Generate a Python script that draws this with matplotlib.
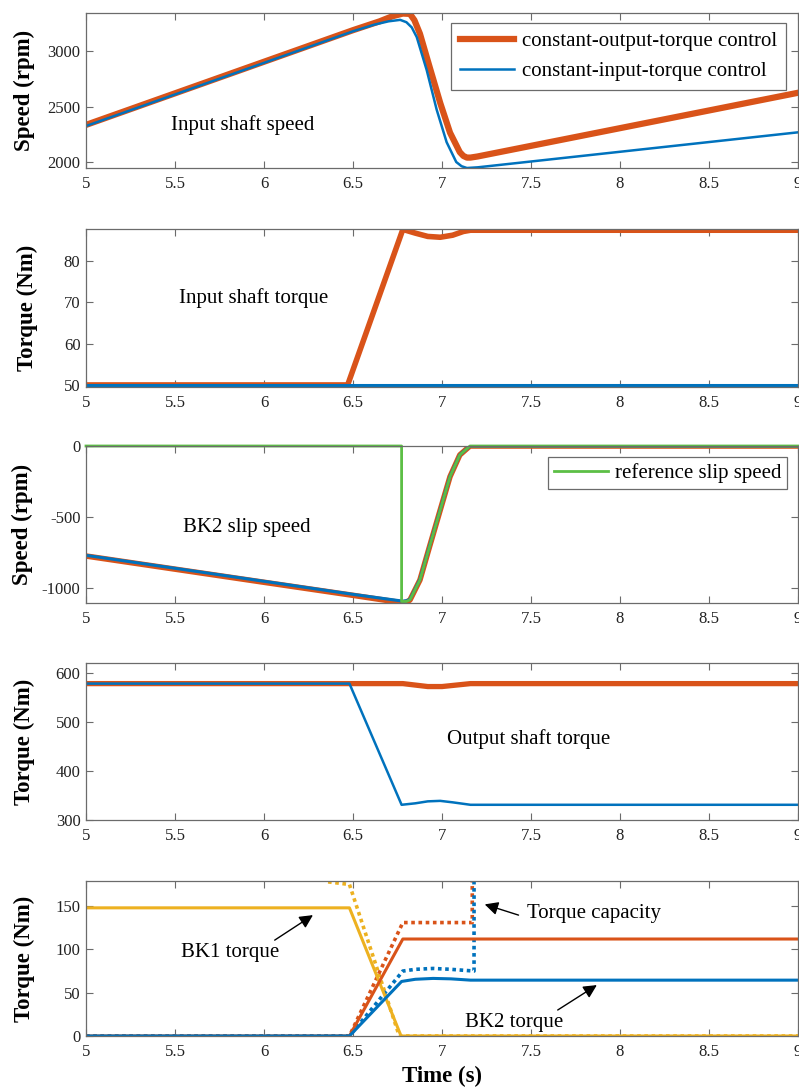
import matplotlib
matplotlib.use("Agg")
import matplotlib.pyplot as plt

plt.rcParams['font.family'] = ['Liberation Serif', 'DejaVu Serif']
plt.rcParams['axes.unicode_minus'] = False

ORANGE = '#D95319'
BLUE = '#0072BD'
YELLOW = '#EDB120'
GREEN = '#5CBF45'
GRAY = '#6b6b6b'

# ---- panel 1: input shaft speed (rpm)
t_spd_o = [5.0, 6.0, 6.5, 6.65, 6.72, 6.78, 6.82, 6.845, 6.876, 6.93, 6.99, 7.045, 7.10, 7.12, 7.14, 7.16, 7.2, 9.0]
spd_o = [2335, 2905, 3190, 3270, 3315, 3340, 3337, 3280, 3158, 2860, 2533, 2265, 2089, 2055, 2040, 2040, 2050, 2625]
t_spd_b = [5.0, 6.0, 6.5, 6.62, 6.7, 6.765, 6.80, 6.83, 6.858, 6.914, 6.97, 7.026, 7.08, 7.11, 7.14, 7.2, 9.0]
spd_b = [2325, 2895, 3180, 3240, 3270, 3283, 3262, 3215, 3128, 2830, 2473, 2179, 2000, 1962, 1946, 1952, 2268]

# ---- panel 2: input shaft torque (Nm)
t_tin_o = [5.0, 6.47, 6.78, 6.85, 6.92, 6.99, 7.06, 7.12, 7.16, 9.0]
tin_o = [50, 50, 87.7, 86.8, 86.0, 85.8, 86.3, 87.2, 87.5, 87.5]
t_tin_b = [5.0, 9.0]
tin_b = [50, 50]

# ---- panel 3: BK2 slip speed (rpm)
t_slip = [5.0, 6.0, 6.5, 6.78, 6.80, 6.82, 6.876, 6.93, 6.99, 7.045, 7.10, 7.157, 9.0]
slip_o = [-775, -960, -1052, -1105, -1100, -1085, -944, -709, -451, -216, -63, 0, 0]
slip_b = [-770, -953, -1045, -1093, -1090, -1080, -940, -705, -448, -214, -62, 0, 0]
t_ref = [5.0, 6.773, 6.773, 6.80, 6.82, 6.876, 6.93, 6.99, 7.045, 7.10, 7.157, 9.0]
slip_ref = [0, 0, -1095, -1095, -1083, -944, -709, -451, -216, -63, 0, 0]

# ---- panel 4: output shaft torque (Nm)
t_tout_o = [5.0, 6.78, 6.85, 6.92, 7.0, 7.08, 7.16, 9.0]
tout_o = [578, 578, 575, 572, 572, 575, 578, 578]
t_tout_b = [5.0, 6.48, 6.773, 6.85, 6.92, 6.99, 7.06, 7.16, 9.0]
tout_b = [578, 578, 331, 334, 338, 339, 336, 331, 331]

# ---- panel 5: clutch torques (Nm)
t_bk1 = [5.0, 6.48, 6.77, 9.0]
bk1 = [148, 148, 0, 0]
t_bk1_cap = [6.36, 6.48, 6.76, 9.0]
bk1_cap = [178, 175, 0, 0]
t_bk2_o = [5.0, 6.48, 6.78, 9.0]
bk2_o = [0, 0, 112, 112]
t_bk2_o_cap = [5.0, 6.48, 6.78, 7.17, 7.17]
bk2_o_cap = [0, 0, 131, 131, 300]
t_bk2_b = [5.0, 6.48, 6.773, 6.85, 6.95, 7.05, 7.16, 9.0]
bk2_b = [0, 0, 63, 65.5, 66.5, 66, 64.5, 64.5]
t_bk2_b_cap = [5.0, 6.48, 6.78, 6.85, 6.95, 7.05, 7.18, 7.18]
bk2_b_cap = [0, 0, 75, 77, 78, 77, 75, 300]

xticks = [5, 5.5, 6, 6.5, 7, 7.5, 8, 8.5, 9]
xticklabels = ['5', '5.5', '6', '6.5', '7', '7.5', '8', '8.5', '9']

fig = plt.figure(figsize=(7.99, 10.90), dpi=100)
L, W = 86 / 799, 712 / 799
boxes = [(13, 168), (229, 387), (446, 603), (663, 820), (881, 1036)]
axs = [fig.add_axes([L, 1 - b / 1090, W, (b - t) / 1090]) for t, b in boxes]


def style(ax, ylabel, yticks, ylim):
    ax.set_xlim(5, 9)
    ax.set_ylim(*ylim)
    ax.set_xticks(xticks)
    ax.set_xticklabels(xticklabels)
    ax.set_yticks(yticks)
    ax.tick_params(direction='in', top=True, right=True, length=5, width=0.8,
                   color=GRAY, labelsize=12, labelcolor='#222222')
    ax.tick_params(axis='x', pad=6)
    ax.tick_params(axis='y', pad=4)
    for s in ax.spines.values():
        s.set_color(GRAY)
        s.set_linewidth(0.9)
    ax.set_ylabel(ylabel, fontsize=16.5, fontweight='bold')
    ax.yaxis.set_label_coords(-0.072, 0.5)


TXT = 15

ax = axs[0]
ax.plot(t_spd_o, spd_o, color=ORANGE, lw=4.5, label='constant-output-torque control')
ax.plot(t_spd_b, spd_b, color=BLUE, lw=1.8, label='constant-input-torque control')
style(ax, 'Speed (rpm)', [2000, 2500, 3000], (1946, 3345))
ax.text(5.48, 2330, 'Input shaft speed', fontsize=TXT, va='center')
leg = ax.legend(loc='upper right', bbox_to_anchor=(0.983, 0.935), borderaxespad=0,
                fontsize=TXT, fancybox=False, edgecolor=GRAY, framealpha=1,
                handlelength=2.6, borderpad=0.42, labelspacing=0.5, handletextpad=0.4)
leg.get_frame().set_linewidth(0.9)

ax = axs[1]
ax.plot(t_tin_o, tin_o, color=ORANGE, lw=4.0)
ax.plot(t_tin_b, tin_b, color=BLUE, lw=2.2)
style(ax, 'Torque (Nm)', [50, 60, 70, 80], (49.5, 87.8))
ax.yaxis.set_label_coords(-0.067, 0.5)
ax.text(5.52, 71, 'Input shaft torque', fontsize=TXT, va='center')

ax = axs[2]
ax.plot(t_slip, slip_o, color=ORANGE, lw=4.0)
ax.plot(t_slip, slip_b, color=BLUE, lw=2.2)
ax.plot(t_ref, slip_ref, color=GREEN, lw=2.0, clip_on=False, label='reference slip speed')
style(ax, 'Speed (rpm)', [-1000, -500, 0], (-1106, 0))
ax.yaxis.set_label_coords(-0.074, 0.5)
ax.text(5.545, -577, 'BK2 slip speed', fontsize=TXT, va='center')
leg = ax.legend(loc='upper right', bbox_to_anchor=(0.985, 0.93), borderaxespad=0,
                fontsize=TXT, fancybox=False, edgecolor=GRAY, framealpha=1,
                handlelength=2.6, borderpad=0.3, handletextpad=0.3)
leg.get_frame().set_linewidth(0.9)

ax = axs[3]
ax.plot(t_tout_o, tout_o, color=ORANGE, lw=3.8)
ax.plot(t_tout_b, tout_b, color=BLUE, lw=1.8)
style(ax, 'Torque (Nm)', [300, 400, 500, 600], (300, 620))
ax.text(7.03, 466, 'Output shaft torque', fontsize=TXT, va='center')

ax = axs[4]
dots = (0, (1, 1))
ax.plot(t_bk1_cap, bk1_cap, color=YELLOW, lw=2.6, ls=dots)
ax.plot(t_bk2_o_cap, bk2_o_cap, color=ORANGE, lw=2.6, ls=dots)
ax.plot(t_bk2_b_cap, bk2_b_cap, color=BLUE, lw=2.6, ls=dots)
ax.plot(t_bk1, bk1, color=YELLOW, lw=2.2)
ax.plot(t_bk2_o, bk2_o, color=ORANGE, lw=2.2)
ax.plot(t_bk2_b, bk2_b, color=BLUE, lw=2.2)
style(ax, 'Torque (Nm)', [0, 50, 100, 150], (0, 179))
arrow = dict(arrowstyle='-|>', color='black', lw=1.0, mutation_scale=20, shrinkA=0, shrinkB=0)
ax.annotate('', xy=(6.275, 139.6), xytext=(6.06, 110.7), arrowprops=arrow)
ax.text(5.81, 97, 'BK1 torque', fontsize=TXT, va='center', ha='center')
ax.annotate('', xy=(7.24, 152), xytext=(7.43, 139.6), arrowprops=arrow)
ax.text(7.48, 142, 'Torque capacity', fontsize=TXT, va='center')
ax.annotate('', xy=(7.87, 58.8), xytext=(7.65, 30), arrowprops=arrow)
ax.text(7.13, 16, 'BK2 torque', fontsize=TXT, va='center')
ax.set_xlabel('Time (s)', fontsize=16.5, fontweight='bold')
ax.xaxis.set_label_coords(0.5, -0.19)

fig.savefig('out.png', dpi=100)
